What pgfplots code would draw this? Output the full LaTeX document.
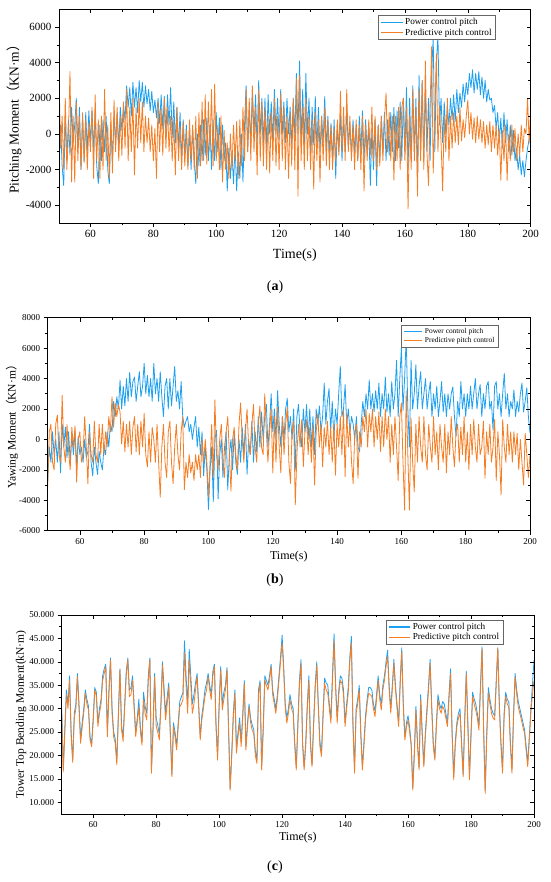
\documentclass[border=0pt]{standalone}
\usepackage{pgfplots}
\pgfplotsset{compat=1.18}
\usepackage{pgfplotstable}
\usepackage{fontspec}
\setmainfont{Liberation Serif}
\newfontfamily\cjk{Noto Sans CJK SC}
\definecolor{cblue}{RGB}{30,160,240}
\definecolor{corange}{RGB}{245,125,35}

\pgfplotstableread{
t b o
50 -1500 3300
50.5 500 -800
51 -1800 1000
51.5 -2900 -2000
52 1000 2000
52.5 -1500 -2000
53 800 0
53.5 -1200 3500
54 1500 -2700
54.5 -500 1000
55 500 -2700
55.5 2000 1800
56 -800 -1500
56.5 1500 1000
57 -2000 -2000
57.5 1000 1200
58 -1500 -1600
58.5 1200 800
59 -1000 -2000
59.5 1300 600
60 -500 -1000
60.5 1300 1500
61 -800 -2500
61.5 1200 2200
62 -1800 -1500
62.5 -2800 800
63 500 -2500
63.5 -1500 1000
64 800 -2000
64.5 -1000 2500
65 1000 -1500
65.5 -2000 500
66 -2800 -2500
66.5 500 1200
67 -1500 -2200
67.5 1000 1900
68 -500 -1000
68.5 1200 1500
69 -800 -1500
69.5 1500 1000
70 200 -1200
70.5 1600 1800
71 800 -800
71.5 2700 2500
72 1500 -1500
72.5 2600 1500
73 1000 -1000
73.5 2900 2000
74 1500 -2300
74.5 2600 1500
75 1200 -800
75.5 3000 2000
76 1800 -500
76.5 2900 1800
77 1500 -1000
77.5 2700 1000
78 1700 -500
78.5 2500 900
79 1300 -1000
79.5 2400 500
80 1200 -1500
80.5 1900 300
81 900 -2500
81.5 2000 1800
82 600 -1000
82.5 2200 1400
83 300 -1200
83.5 2100 2000
84 0 -800
84.5 2200 1500
85 500 -1000
85.5 2600 1000
86 -200 -1500
86.5 1800 800
87 -500 -2300
87.5 1500 1500
88 -800 -1500
88.5 1200 400
89 -1500 -2000
89.5 800 700
90 -1200 -1800
90.5 500 200
91 -1800 -2000
91.5 200 800
92 -2000 -1500
92.5 300 500
93 -1500 -2000
93.5 -2800 1000
94 0 -2500
94.5 -1800 1200
95 500 -1800
95.5 -1500 1800
96 800 -1500
96.5 -1200 2200
97 900 -1700
97.5 -1500 1800
98 500 -1000
98.5 -2000 2500
99 800 -1800
99.5 -1500 2800
100 1200 -1500
100.5 -1000 500
101 900 -2000
101.5 -2000 1000
102 500 -2700
102.5 -1500 200
103 -500 -2000
103.5 -3200 -500
104 -800 -2500
104.5 -2500 0
105 -1000 -2000
105.5 -2800 500
106 -600 -1500
106.5 -3200 700
107 -1000 -2500
107.5 -2500 800
108 0 -1800
108.5 -2700 1500
109 500 -1500
109.5 2700 2500
110 -1000 -1000
110.5 1500 2000
111 -500 -1500
111.5 2500 2700
112 0 -1000
112.5 2200 1500
113 -800 -2300
113.5 3000 2500
114 0 -1500
114.5 2000 1800
115 -500 -1800
115.5 2000 1500
116 -800 -2000
116.5 2200 1000
117 0 -2200
117.5 1800 1200
118 -500 -1500
118.5 2500 2000
119 0 -1800
119.5 2000 1000
120 -300 -2000
120.5 2500 2300
121 0 -1500
121.5 1800 1500
122 -500 -2000
122.5 2000 1000
123 0 -2500
123.5 1500 1200
124 -600 -1800
124.5 2000 2000
125 -200 -2000
125.5 3400 3100
126 0 -3500
126.5 4100 3300
127 -500 -1500
127.5 2500 1500
128 -800 -2000
128.5 3400 2000
129 0 -1500
129.5 2000 1000
130 -1000 -2000
130.5 1500 800
131 -600 -3100
131.5 2100 1200
132 -800 -1500
132.5 1500 800
133 -1000 -2700
133.5 1000 1000
134 -500 -1500
134.5 2100 1500
135 -800 -1800
135.5 1000 800
136 -1200 -2000
136.5 600 500
137 -1500 -2000
137.5 800 300
138 -2500 -1500
138.5 500 800
139 -1000 -1200
139.5 1000 2400
140 -1500 -1000
140.5 800 1500
141 -1000 -1500
141.5 1500 2500
142 -800 -1000
142.5 500 1000
143 -1200 -1500
143.5 800 500
144 -1000 -2000
144.5 500 800
145 -1500 -1500
145.5 1000 500
146 -1000 -2000
146.5 1300 1000
147 -1500 -3200
147.5 800 500
148 -1000 -1500
148.5 500 800
149 -2900 -1200
149.5 300 1500
150 -2000 -1500
150.5 800 1000
151 -2900 -2000
151.5 500 500
152 -1500 -1800
152.5 1000 1000
153 -1000 -1500
153.5 1200 800
154 -1500 2300
154.5 800 -1000
155 -1200 1200
155.5 1200 -1500
156 -1000 1000
156.5 1500 -2600
157 -1500 1000
157.5 1300 -1500
158 -800 1500
158.5 1800 -2000
159 -1500 1500
159.5 2000 2000
160 -1000 -1500
160.5 2600 1500
161 -2000 -4200
161.5 2000 1000
162 -1500 -2000
162.5 2700 2500
163 -1000 -1500
163.5 2000 1500
164 -2500 -3500
164.5 3300 2500
165 -1000 -1500
165.5 3000 3000
166 -1500 -2000
166.5 2500 4100
167 -1000 -1000
167.5 2000 -2900
168 -1500 1500
168.5 3500 4900
169 5400 -2200
169.5 -1000 1000
170 4000 4500
170.5 5500 -1000
171 500 1600
171.5 2000 -500
172 -500 -3200
172.5 1800 1000
173 0 -1000
173.5 1500 2000
174 500 -1500
174.5 2000 1000
175 800 -800
175.5 2200 1200
176 700 -500
176.5 2500 1000
177 1200 -600
177.5 2300 1500
178 1500 -400
178.5 2800 800
179 1800 -200
179.5 2900 1000
180 2200 1900
180.5 3400 0
181 2600 1200
181.5 3600 -300
182 2300 900
182.5 3400 -500
183 2500 1000
183.5 3500 -300
184 2200 800
184.5 3200 -500
185 2000 700
185.5 3000 -800
186 1800 500
186.5 2500 -600
187 1900 700
187.5 2000 -1000
188 1200 500
188.5 1600 -800
189 300 500
189.5 1200 -1200
190 -500 300
190.5 900 -2600
191 -800 200
191.5 1200 -1500
192 -500 500
192.5 800 -2600
193 -1000 0
193.5 500 -1500
194 -1200 500
194.5 200 -1000
195 -1500 300
195.5 -800 -1500
196 -2000 0
196.5 -1200 -1200
197 -2300 500
197.5 -1500 -1000
198 -2400 300
198.5 -1500 0
199 -800 2000
199.5 -300 -500
200 200 1500
}\tabA

\pgfplotstableread{
t b o
50 -2700 -3100
50.5 -500 500
51 -1500 1000
51.5 500 -1500
52 -1000 -2000
52.5 0 1000
53 -1500 1600
53.5 500 -1000
54 -2200 -1500
54.5 1000 2900
55 -500 -500
55.5 800 -1500
56 -1200 1000
56.5 500 -800
57 -1500 -2000
57.5 300 800
58 -1000 -500
58.5 500 900
59 -1800 -2800
59.5 200 0
60 -1000 500
60.5 -500 -1500
61 -1500 -1000
61.5 0 1500
62 -1200 -500
62.5 -800 -2900
63 1000 500
63.5 -1500 -1000
64 -2400 -1500
64.5 -500 1200
65 -1500 -1000
65.5 -2300 -1500
66 -800 1000
66.5 -1500 -1000
67 -2000 1000
67.5 -500 -1000
68 -1000 500
68.5 500 -500
69 -500 1500
69.5 1000 500
70 500 2800
70.5 2500 800
71 1500 2400
71.5 2800 1500
72 2000 2300
72.5 3900 1800
73 2000 -300
73.5 3500 1200
74 2200 -800
74.5 4000 1000
75 2500 -500
75.5 4400 1200
76 2800 -1000
76.5 3800 800
77 4100 1500
77.5 2500 -800
78 3500 1000
78.5 4450 -1000
79 2800 1200
79.5 3500 -500
80 5000 1700
80.5 3000 -1000
81 4200 -1800
81.5 2800 500
82 4000 -1500
82.5 2500 800
83 5000 0
83.5 3000 -1500
84 4000 1000
84.5 2500 -1500
85 4450 -3800
85.5 2800 -500
86 1500 1000
86.5 3500 -1500
87 4000 -2500
87.5 2000 500
88 4000 1200
88.5 2200 -1500
89 3500 -2900
89.5 4800 -500
90 2500 1000
90.5 3200 -1000
91 2000 -2000
91.5 3800 500
92 1500 1500
92.5 800 -3300
93 1200 -1500
93.5 1500 -2500
94 500 -1000
94.5 1000 -2200
95 0 -1500
95.5 800 -2700
96 1500 -1000
96.5 -500 -2000
97 800 -1000
97.5 -1000 -2500
98 500 0
98.5 -2400 -1500
99 -500 0
99.5 -2000 -1500
100 -4600 -3800
100.5 -2000 -1500
101 -500 1000
101.5 -4100 -2500
102 0 2600
102.5 600 -1000
103 -3900 -2000
103.5 -1000 0
104 0 1000
104.5 -2500 -1500
105 -500 -2500
105.5 500 500
106 -3300 1500
106.5 -1000 -1000
107 0 -3400
107.5 -2000 0
108 500 800
108.5 -1500 -1000
109 -2300 -2000
109.5 0 1000
110 -1500 2400
110.5 800 0
111 -1000 -1500
111.5 1000 500
112 -2300 2000
112.5 0 -500
113 -1000 -1000
113.5 1200 1000
114 -1500 2300
114.5 500 -500
115 -800 -1500
115.5 1500 1000
116 -500 2200
116.5 1800 -500
117 0 -1000
117.5 1500 3000
118 2300 500
118.5 -500 -1500
119 1000 500
119.5 3000 2000
120 500 -2200
120.5 2000 1500
121 0 -1500
121.5 3200 2100
122 1000 -500
122.5 -500 -2200
123 1500 1500
123.5 0 -1000
124 2000 1000
124.5 2700 2100
125 500 -1500
125.5 1500 -2900
126 0 500
126.5 2000 1200
127 -2000 -4300
127.5 1500 -1000
128 2300 1000
128.5 500 -500
129 -500 1300
129.5 2000 -1800
130 500 500
130.5 2300 1300
131 0 -1000
131.5 2000 800
132 -500 -1500
132.5 1500 1000
133 -1000 -3000
133.5 2000 500
134 1000 1700
134.5 2200 -500
135 500 1000
135.5 1500 -1800
136 3700 800
136.5 1000 -500
137 2500 1200
137.5 3350 -1000
138 500 800
138.5 2500 -1500
139 0 1000
139.5 2000 -2350
140 1000 1000
140.5 3000 -500
141 4800 1500
141.5 1500 -1000
142 2000 1900
142.5 3600 -2450
143 1000 1700
143.5 2000 -500
144 500 1000
144.5 1500 -1500
145 1000 -2900
145.5 0 500
146 1500 1000
146.5 -500 -2550
147 -800 500
147.5 1000 -500
148 2500 1500
148.5 1500 500
149 3000 2000
149.5 2000 -500
150 3900 1700
150.5 2000 500
151 3000 2000
151.5 1800 -500
152 3200 1500
152.5 2000 0
153 3700 1800
153.5 1500 -800
154 3000 1500
154.5 2000 -500
155 4100 2000
155.5 1800 0
156 3000 1500
156.5 1500 -1500
157 3800 1000
157.5 2000 -1000
158 3000 1500
158.5 5200 -500
159 1500 -2700
159.5 4000 1500
160 6000 2400
160.5 1900 -1500
161 4000 -4650
161.5 6700 3200
162 2000 -1000
162.5 -500 -4650
163 5200 1400
163.5 2000 -1500
164 3000 -3450
164.5 4900 1000
165 2000 -1500
165.5 3500 1500
166 4450 -500
166.5 2000 -1500
167 3000 1500
167.5 4000 -1000
168 2000 -2000
168.5 3000 1000
169 3800 -500
169.5 1500 -1500
170 3000 1500
170.5 2000 -1000
171 3500 500
171.5 1500 -2000
172 2500 1000
172.5 3800 -500
173 1800 -1500
173.5 3000 1000
174 1500 -2200
174.5 3000 500
175 2000 -1000
175.5 3000 1500
176 3450 -500
176.5 1500 -1800
177 200 500
177.5 2500 1000
178 1500 -1500
178.5 3800 800
179 2000 -1000
179.5 3000 1500
180 1500 -1500
180.5 3000 500
181 2000 -2000
181.5 3500 1000
182 2000 -1000
182.5 3000 1300
183 4000 -500
183.5 2000 -1500
184 3000 1000
184.5 3600 -1000
185 1500 -500
185.5 3000 1200
186 2000 -2550
186.5 3500 500
187 3800 -1000
187.5 2000 1000
188 2500 -1500
188.5 600 -500
189 3500 1300
189.5 3800 -2700
190 2000 500
190.5 3000 -1000
191 1500 -3650
191.5 3000 1300
192 4350 -500
192.5 2000 -1500
193 3000 1000
193.5 1500 -1000
194 2500 500
194.5 2000 -1500
195 3250 500
195.5 1500 -1000
196 2500 400
196.5 1800 -2000
197 3000 0
197.5 3700 -1500
198 1800 -3000
198.5 2500 400
199 3400 -1000
199.5 1500 -2500
200 400 -1000
}\tabB

\pgfplotstableread{
t b o
50 30 29
50.5 17 16.5
51 26 25
51.5 34 33
52 31 30
52.5 37 36
53 25 24
53.5 19 18.5
54 29 28
54.5 31 30
55 37.5 36.8
55.5 31 30
56 23.5 22.6
56.5 27 26
57 30 29
57.5 34 33.3
58 32 31
58.5 30.5 29.7
59 24 23.3
59.5 22.5 21.9
60 28 27
60.5 34.5 34
61 33.5 32.6
61.5 27 26.2
62 30 29
62.5 32 31
63 37 36
63.5 38.5 37.5
64 39.5 39
64.5 25 24
65 34 33
65.5 40.8 40.4
66 30 29
66.5 25 24
67 23.5 22.6
67.5 19 18
68 29 28
68.5 38.5 38.3
69 26.5 25.5
69.5 24 23
70 31 30
70.5 38 37
71 40.8 40.4
71.5 34 32.6
72 34.5 33
72.5 37 36.1
73 31 30
73.5 25 24
74 28 27
74.5 32 30.4
75 26 25
75.5 23 22.2
76 33.5 31.9
76.5 30.5 29
77 29 27.6
77.5 37 36
78 40.8 40.4
78.5 17 16.2
79 26 25
79.5 37.5 36.8
80 28 26.2
80.5 26.5 25
81 24.5 23.3
81.5 31 30
82 40 39.3
82.5 34.5 33
83 29 27.6
83.5 32.5 31
84 35.5 34.7
84.5 25 24
85 16 15.5
85.5 27 26.2
86 25 24
86.5 22 21.2
87 27 26
87.5 31.5 30.4
88 32.5 31
88.5 33.5 31.9
89 44.5 42
89.5 37 35
90 31 29
90.5 42.7 40.5
91 37 35
91.5 31 29
92 33 31
92.5 35.5 34
93 37.5 36.8
93.5 31 30
94 24 23.3
94.5 28.5 27.6
95 31 30
95.5 34 32.6
96 35.5 34
96.5 37.5 36.8
97 35 34
97.5 33 31.9
98 38 37
98.5 39.5 39
99 27 26
99.5 20 19
100 31 30
100.5 39 38.3
101 31 29.7
101.5 33.5 32
102 35 34
102.5 38.8 38.3
103 26 25
103.5 13 12.6
104 20.5 19.8
104.5 29 28
105 34 33.3
105.5 21.5 20.5
106 25 24
106.5 28 26.9
107 23 21.9
107.5 29 28
108 36 35.4
108.5 22 21.2
109 27 26
109.5 31 30.4
110 28 27
110.5 26.5 25.4
111 25.5 24.7
111.5 21 20
112 19 18.3
112.5 34 33
113 36 35.4
113.5 17.5 16.9
114 26 25
114.5 37 36.1
115 36 35
115.5 35 34
116 37 36
116.5 39.5 39
117 34 33
117.5 32 31
118 30 29
118.5 33 32
119 37 36
119.5 41 40
120 45.7 44
120.5 39 38
121 31 30
121.5 28 26.9
122 30 29
122.5 33 31.9
123 31 30
123.5 30 29
124 23 22
124.5 17.5 16.9
125 27 26
125.5 36 35
126 40.5 39.7
126.5 23 22
127 17.5 16.9
127.5 23 21.9
128 31 30
128.5 37 36
129 23 22
129.5 18 17.6
130 27 26
130.5 35 34
131 40 39.3
131.5 31 30
132 23 22
132.5 20.5 19.8
133 29 28
133.5 36.5 35.4
134 35.5 34
134.5 35 33.3
135 31 30
135.5 28 26.9
136 37.5 36
136.5 46 44.5
137 35 34
137.5 28 26.9
138 34 33
138.5 37 36
139 36.5 35.4
139.5 34 33
140 27 26.2
140.5 31 30
141 34.5 33.3
141.5 41 40
142 45.4 44
142.5 27 26
143 17 16.2
143.5 30 29
144 32 31
144.5 35 34
145 25 24
145.5 17.5 16.9
146 23 22
146.5 28.5 27.6
147 32 31
147.5 34.5 33.3
148 34.5 33
148.5 34 32.6
149 31 30
149.5 29.5 28.3
150 33 32
150.5 37 36
151 33 32
151.5 31 29.7
152 35 34
152.5 37 36
153 40 39
153.5 42.5 41.1
154 35 34
154.5 30 29
155 35 34
155.5 40.5 39.7
156 35 34
156.5 31 30
157 27 26.2
157.5 36 35
158 43 42.2
158.5 31 30
159 24 23.3
159.5 27 26
160 28.5 27.6
160.5 26 25
161 22.5 21.9
161.5 13 12.6
162 21 20
162.5 30.5 29.7
163 23 22
163.5 17.5 16.9
164 33 31.9
164.5 25 24
165 18 17.6
165.5 25 24
166 30 29
166.5 35 34
167 40.5 39.7
167.5 31 30
168 23 22
168.5 19.5 19
169 27 26
169.5 33 31.9
170 31 30
170.5 30 29
171 31.5 30.5
171.5 31 29.7
172 29 28
172.5 27 26.2
173 33 32
173.5 38.5 37.5
174 25 24
174.5 15.5 14.8
175 23 22
175.5 27 26.2
176 29 28
176.5 30 29
177 23 22
177.5 16 15.5
178 28 27
178.5 38 37.5
179 27 26
179.5 15.5 14.8
180 25 24
180.5 33.5 32.6
181 32 31
181.5 31 29.7
182 29 28
182.5 26.5 25.4
183 35 34
183.5 43.2 42.9
184 26 25
184.5 12.5 11.9
185 25 24
185.5 34.5 33.3
186 32 31
186.5 30 29
187 29 28
187.5 28.5 27.6
188 36 35
188.5 43 42.9
189 31 30
189.5 23 22
190 17 16.2
190.5 29 28
191 33.5 32.6
191.5 32 31
192 31.5 30.4
192.5 23 22
193 17 16.2
193.5 29 28
194 37.5 36.8
194.5 34 33
195 31.5 30.4
195.5 30 29
196 28.5 27.6
196.5 27 26
197 25.5 24.7
197.5 22 21
198 18.5 17.6
198.5 24 23
199 30 29
199.5 35 33
200 40.4 36
}\tabC

\pgfplotsset{
  base/.style={scale only axis, xmin=50, xmax=200, xtick={60,80,...,200}, minor x tick num=1,
    axis line style={line width=0.8pt}, every tick/.style={black, line width=0.6pt},
    major tick length=4pt, minor tick length=2.5pt, scaled ticks=false,
    /pgf/number format/assume math mode=true, /pgf/number format/1000 sep={}},
  over/.style={base, tick pos=right, tick align=inside, xticklabels={}, yticklabels={}},
  mainax/.style={base, tick pos=left, tick align=outside},
}

\begin{document}
\begin{tikzpicture}
\useasboundingbox (0,0) rectangle (550pt,882pt);

% ---------- (a) ----------
\begin{axis}[mainax, width=471.7pt, height=213.7pt, at={(59pt,659pt)}, anchor=south west,
  ymin=-5000, ymax=7000, ytick={-4000,-2000,...,6000}, minor y tick num=1,
  ticklabel style={font=\fontsize{11}{12}\selectfont},
  xlabel={Time(s)}, xlabel style={font=\fontsize{14}{15}\selectfont, at={(axis description cs:0.5,-0.152)}, anchor=center},
  ylabel={Pitching Moment{\cjk （}KN·m{\cjk ）}}, ylabel style={font=\fontsize{13.5}{15}\selectfont, at={(axis description cs:-0.095,0.5)}, anchor=center},
  legend style={at={(0.926,0.973)}, anchor=north east, draw=gray!80!black,
    font=\fontsize{9.2}{9.5}\selectfont, inner xsep=2pt, inner ysep=1pt, row sep=-1.5pt},
  legend cell align=left]
\addplot[color=cblue, line width=0.8pt, mark=none, line join=round, forget plot] table[x=t,y=b] {\tabA};
\addplot[color=corange, line width=0.8pt, mark=none, line join=round, forget plot] table[x=t,y=o] {\tabA};
\addlegendimage{legend image code/.code={\draw[draw=cblue, line width=1.3pt] (0pt,0pt) -- (22pt,0pt);}}
\addlegendentry{Power control pitch}
\addlegendimage{legend image code/.code={\draw[draw=corange, line width=1.3pt] (0pt,0pt) -- (22pt,0pt);}}
\addlegendentry{Predictive pitch control}
\end{axis}
\begin{axis}[over, width=471.7pt, height=213.7pt, at={(59pt,659pt)}, anchor=south west,
  ymin=-5000, ymax=7000, ytick={-4000,-2000,...,6000}, minor y tick num=1]
\end{axis}
\node[font=\fontsize{14}{15}\selectfont] at (275pt,595pt) {(\textbf{a})};

% ---------- (b) ----------
\begin{axis}[mainax, width=482.3pt, height=213pt, at={(47.7pt,351.3pt)}, anchor=south west,
  ymin=-6000, ymax=8000, ytick={-6000,-4000,...,8000}, minor y tick num=1,
  ticklabel style={font=\fontsize{9}{10}\selectfont},
  xlabel={Time(s)}, xlabel style={font=\fontsize{12}{13}\selectfont, at={(axis description cs:0.5,-0.123)}, anchor=center},
  ylabel={Yawing Moment{\cjk （}KN·m{\cjk ）}}, ylabel style={font=\fontsize{11.5}{13}\selectfont, at={(axis description cs:-0.074,0.5)}, anchor=center},
  legend style={at={(0.935,0.966)}, anchor=north east, draw=gray!80!black,
    font=\fontsize{7.4}{8}\selectfont, inner xsep=2pt, inner ysep=1pt, row sep=-1.5pt},
  legend cell align=left]
\addplot[color=cblue, line width=0.8pt, mark=none, line join=round, forget plot] table[x=t,y=b] {\tabB};
\addplot[color=corange, line width=0.8pt, mark=none, line join=round, forget plot] table[x=t,y=o] {\tabB};
\addlegendimage{legend image code/.code={\draw[draw=cblue, line width=1.3pt] (0pt,0pt) -- (18pt,0pt);}}
\addlegendentry{Power control pitch}
\addlegendimage{legend image code/.code={\draw[draw=corange, line width=1.3pt] (0pt,0pt) -- (18pt,0pt);}}
\addlegendentry{Predictive pitch control}
\end{axis}
\begin{axis}[over, width=482.3pt, height=213pt, at={(47.7pt,351.3pt)}, anchor=south west,
  ymin=-6000, ymax=8000, ytick={-6000,-4000,...,8000}, minor y tick num=1]
\end{axis}
\node[font=\fontsize{14}{15}\selectfont] at (275pt,302pt) {(\textbf{b})};

% ---------- (c) ----------
\begin{axis}[mainax, width=472.3pt, height=199pt, at={(61.7pt,68pt)}, anchor=south west,
  ymin=7.5, ymax=50, ytick={10,15,...,50}, minor y tick num=1,
  ticklabel style={font=\fontsize{9}{10}\selectfont},
  yticklabel style={/pgf/number format/fixed, /pgf/number format/fixed zerofill, /pgf/number format/precision=3},
  xlabel={Time(s)}, xlabel style={font=\fontsize{12}{13}\selectfont, at={(axis description cs:0.5,-0.12)}, anchor=center},
  ylabel={Tower Top Bending Moment(kN·m)}, ylabel style={font=\fontsize{11.5}{13}\selectfont, at={(axis description cs:-0.086,0.5)}, anchor=center},
  legend style={at={(0.935,0.975)}, anchor=north east, draw=gray!80!black,
    font=\fontsize{9.2}{9.5}\selectfont, inner xsep=2pt, inner ysep=1pt, row sep=-1.5pt},
  legend cell align=left]
\addplot[color=cblue, line width=0.8pt, mark=none, line join=round, forget plot] table[x=t,y=b] {\tabC};
\addplot[color=corange, line width=0.8pt, mark=none, line join=round, forget plot] table[x=t,y=o] {\tabC};
\addlegendimage{legend image code/.code={\draw[draw=cblue, line width=1.3pt] (0pt,0pt) -- (21pt,0pt);}}
\addlegendentry{Power control pitch}
\addlegendimage{legend image code/.code={\draw[draw=corange, line width=1.3pt] (0pt,0pt) -- (21pt,0pt);}}
\addlegendentry{Predictive pitch control}
\end{axis}
\begin{axis}[over, width=472.3pt, height=199pt, at={(61.7pt,68pt)}, anchor=south west,
  ymin=7.5, ymax=50, ytick={10,15,...,50}, minor y tick num=1]
\end{axis}
\node[font=\fontsize{14}{15}\selectfont] at (275pt,15pt) {(\textbf{c})};
\end{tikzpicture}
\end{document}
